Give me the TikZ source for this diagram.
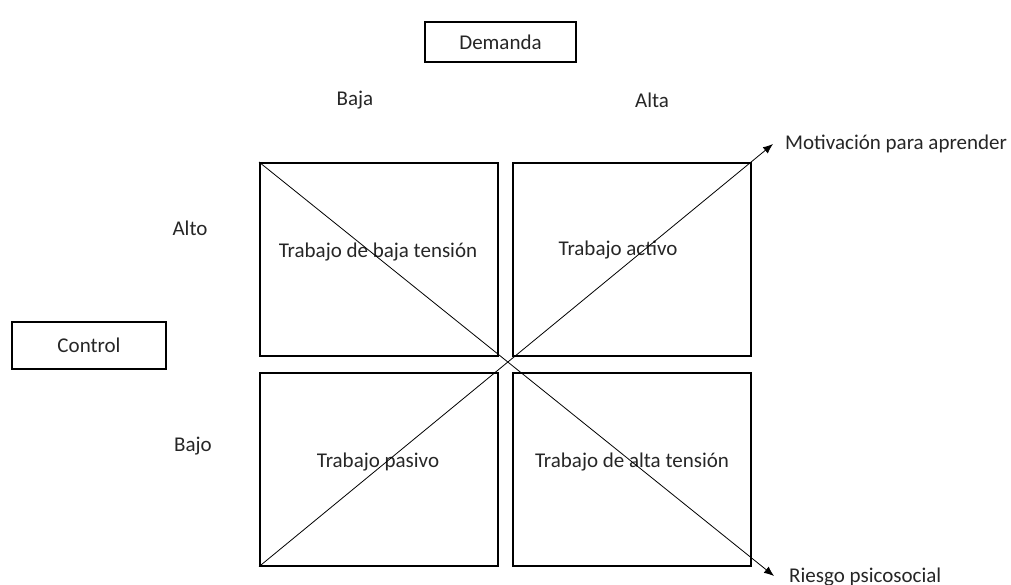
\documentclass[tikz,border=0pt]{standalone}
\usepackage{fontspec}
\setmainfont{Carlito}
\usetikzlibrary{arrows.meta}
\begin{document}
\begin{tikzpicture}[x=1pt,y=-1pt,
  quad/.style={draw,line width=1.6pt,minimum width=238pt,minimum height=193pt,inner sep=0pt},
  tag/.style={draw,line width=1.6pt,inner sep=0pt,font=\fontsize{21}{25}\selectfont,text=black!85},
  lbl/.style={font=\fontsize{21}{25}\selectfont,inner sep=0pt,text=black!85},
  diag/.style={line width=0.8pt,-{Latex[length=10pt,width=8pt]}}]
\useasboundingbox (0,0) rectangle (1011,584);
\node[quad,anchor=north west] (tl) at (259,162) {};
\node[quad,anchor=north west] (tr) at (512,162) {};
\node[quad,anchor=north west] (bl) at (259,372) {};
\node[quad,anchor=north west] (br) at (512,372) {};
\node[lbl] (tlt) at (378,252) {Trabajo de baja tensión};
\node[lbl] (trt) at (618,250) {Trabajo activo};
\node[lbl] (blt) at (378,462) {Trabajo pasivo};
\node[lbl] (brt) at (632,462) {Trabajo de alta tensión};
\node[tag,minimum width=151pt,minimum height=40pt] (dem) at (500.5,42) {Demanda};
\node[tag,minimum width=154pt,minimum height=47pt] (ctl) at (89,345.5) {Control};
\node[lbl] (baja) at (355,100) {Baja};
\node[lbl] (alta) at (652,100) {Alta};
\node[lbl] (alto) at (190,228) {Alto};
\node[lbl] (bajo) at (193,446) {Bajo};
\coordinate (m) at (773,144);
\coordinate (r) at (774,576);
\node[lbl,anchor=west] (mot) at (785,144) {Motivación para aprender};
\node[lbl,anchor=west] (rie) at (789,577) {Riesgo psicosocial};
\draw[diag] (tl.north west) -- (r);
\draw[diag] (bl.south west) -- (m);
\end{tikzpicture}
\end{document}
